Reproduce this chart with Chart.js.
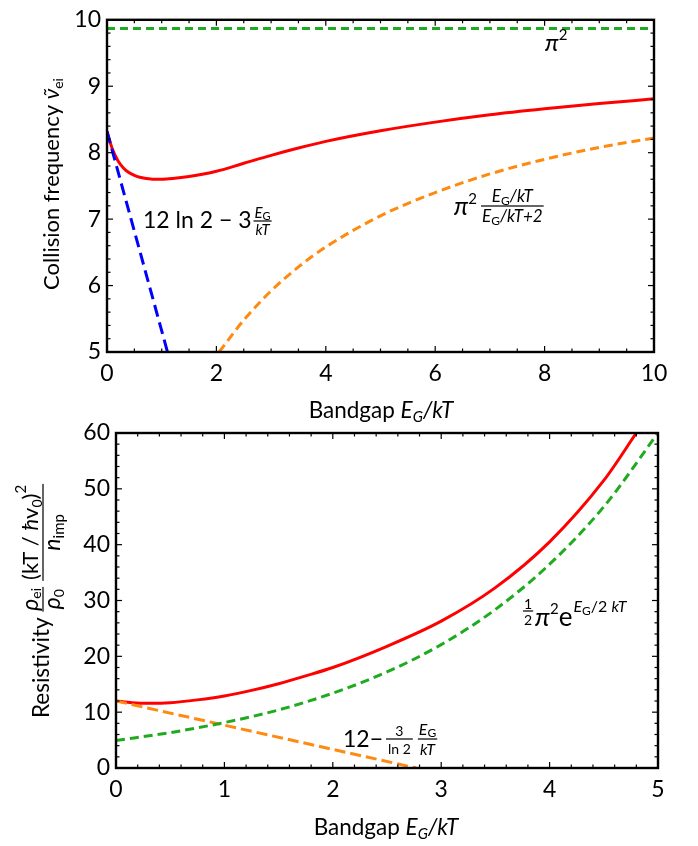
<!DOCTYPE html>
<html><head><meta charset="utf-8">
<script src="https://cdn.jsdelivr.net/npm/chart.js@4.4.0/dist/chart.umd.min.js"></script>
<style>
html,body{margin:0;padding:0;background:#fff;width:698px;height:846px;overflow:hidden}
canvas{position:absolute;left:0;top:0}
</style></head><body>
<canvas id="c1" width="698" height="846"></canvas>
<canvas id="c2" width="698" height="846"></canvas>
<script>
// ---------- data ----------
// Top panel: collision frequency vs bandgap
const topTicksX = [0, 2, 4, 6, 8, 10];
const topTicksY = [5, 6, 7, 8, 9, 10];
const topRedX = [0, 0.1, 0.2, 0.3, 0.4, 0.5, 0.6, 0.8, 1.0, 1.2, 1.5, 2, 2.5, 3, 3.5, 4, 5, 6, 7, 8, 9, 10];
const topRedY = [8.32, 8.05, 7.88, 7.77, 7.70, 7.66, 7.63, 7.605, 7.60, 7.61, 7.64, 7.72, 7.84, 7.96, 8.07, 8.17, 8.33, 8.46, 8.57, 8.66, 8.74, 8.81];
const topBlueX = [0, 1.106];
const topBlueY = [8.32, 5.0];
const topOrangeX = [2.05, 2.5, 3, 3.5, 4, 5, 6, 7, 8, 9, 10];
const topOrangeY = [5.0, 5.48, 5.92, 6.28, 6.58, 7.05, 7.40, 7.68, 7.90, 8.08, 8.22];
const topGreenX = [0, 10];
const topGreenY = [9.87, 9.87];

// Bottom panel: resistivity vs bandgap
const botTicksX = [0, 1, 2, 3, 4, 5];
const botTicksY = [0, 10, 20, 30, 40, 50, 60];
const botRedX = [0, 0.15, 0.3, 0.5, 0.75, 1, 1.25, 1.5, 1.75, 2, 2.5, 3, 3.5, 4, 4.5, 4.8];
const botRedY = [12.0, 11.7, 11.6, 11.7, 12.2, 12.9, 13.9, 15.1, 16.5, 18.0, 21.8, 26.3, 32.3, 40.5, 51.5, 60.0];
const botGreenX = [0, 0.5, 1, 1.5, 2, 2.5, 3, 3.5, 4, 4.5, 5];
const botGreenY = [4.93, 6.34, 8.14, 10.4, 13.4, 17.2, 22.1, 28.4, 36.5, 46.8, 60.0];
const botOrangeX = [0, 2.77];
const botOrangeY = [12.0, 0.0];

// ---------- styling ----------
const FAM = 'Lato, "Open Sans", sans-serif';
const RED = '#ff0000', ORANGE = '#ff8a10', GREEN = '#1fab1f', BLUE = '#0000ff';
Chart.defaults.font.family = FAM;
Chart.defaults.color = '#000';

function pts(xs, ys) { return xs.map((x, i) => ({ x: x, y: ys[i] })); }
function ds(xs, ys, color, dash) {
  return { data: pts(xs, ys), borderColor: color, borderWidth: 3, borderDash: dash || [],
    pointRadius: 0, fill: false, cubicInterpolationMode: 'monotone', borderCapStyle: 'butt' };
}

function F(size, italic) { return (italic ? 'italic ' : '') + size + 'px ' + FAM; }
function runsWidth(ctx, runs) { let w = 0; for (const r of runs) { ctx.font = r.f; w += ctx.measureText(r.t).width + (r.g || 0); } return w; }
function drawRuns(ctx, x, y, runs) {
  ctx.textAlign = 'left'; ctx.textBaseline = 'alphabetic';
  let cx = x;
  for (const r of runs) { ctx.font = r.f; ctx.fillText(r.t, cx, y + (r.dy || 0)); cx += ctx.measureText(r.t).width + (r.g || 0); }
  return cx;
}
function fracWidth(ctx, num, den, pad) { return Math.max(runsWidth(ctx, num), runsWidth(ctx, den)) + 2 * pad; }
function drawFrac(ctx, x, yBar, num, den, pad, numOff, denOff) {
  const wn = runsWidth(ctx, num), wd = runsWidth(ctx, den);
  const w = Math.max(wn, wd) + 2 * pad;
  ctx.fillRect(x, yBar - 0.6, w, 1.2);
  drawRuns(ctx, x + (w - wn) / 2, yBar - numOff, num);
  drawRuns(ctx, x + (w - wd) / 2, yBar + denOff, den);
  return x + w;
}

// frame with inward major and minor ticks on all four sides
const framePlugin = {
  id: 'frame',
  afterDatasetsDraw(chart, args, o) {
    const { ctx, chartArea: a } = chart;
    const sx = chart.scales.x, sy = chart.scales.y;
    ctx.save();
    ctx.strokeStyle = '#000';
    ctx.lineWidth = 1.2;
    const seg = (x1, y1, x2, y2) => { ctx.beginPath(); ctx.moveTo(x1, y1); ctx.lineTo(x2, y2); ctx.stroke(); };
    const n = Math.round((sx.max - sx.min) / o.xMinor);
    for (let i = 1; i < n; i++) {
      const v = sx.min + i * o.xMinor;
      const major = Math.abs(v / o.xMajor - Math.round(v / o.xMajor)) < 1e-6;
      const L = major ? 6 : 3.5, p = sx.getPixelForValue(v);
      seg(p, a.bottom, p, a.bottom - L); seg(p, a.top, p, a.top + L);
    }
    const m = Math.round((sy.max - sy.min) / o.yMinor);
    for (let i = 1; i < m; i++) {
      const v = sy.min + i * o.yMinor;
      const major = Math.abs((v - sy.min) / o.yMajor - Math.round((v - sy.min) / o.yMajor)) < 1e-6;
      const L = major ? 6 : 3.5, p = sy.getPixelForValue(v);
      seg(a.left, p, a.left + L, p); seg(a.right, p, a.right - L, p);
    }
    ctx.lineWidth = 2.4;
    ctx.strokeRect(a.left, a.top, a.right - a.left, a.bottom - a.top);
    ctx.restore();
  }
};

const labelPlugin = {
  id: 'labels',
  afterDraw(chart, args, o) { const ctx = chart.ctx; ctx.save(); ctx.fillStyle = '#000'; o.draw(ctx); ctx.restore(); }
};

function axisX(min, max, ticks, h) {
  return { type: 'linear', min: min, max: max,
    afterBuildTicks: s => { s.ticks = ticks.map(v => ({ value: v })); },
    afterFit: s => { s.height = h; },
    grid: { display: false, drawTicks: false }, border: { display: false },
    ticks: { font: { size: 23 }, padding: 8, maxRotation: 0, color: '#000' } };
}
function axisY(min, max, ticks, w) {
  return { type: 'linear', min: min, max: max,
    afterBuildTicks: s => { s.ticks = ticks.map(v => ({ value: v })); },
    afterFit: s => { s.width = w; },
    grid: { display: false, drawTicks: false }, border: { display: false },
    ticks: { font: { size: 23 }, padding: 6, color: '#000' } };
}

function xTitle() {
  return [{ t: 'Bandgap ', f: F(22.5) }, { t: 'E', f: F(22.5, true) }, { t: 'G', f: F(15, true), dy: 4 }, { t: '/', f: F(22.5, true) }, { t: 'kT', f: F(22.5, true) }];
}

// ---------- top chart ----------
new Chart(document.getElementById('c1'), {
  type: 'line',
  data: { datasets: [
    ds(topGreenX, topGreenY, GREEN, [8, 5]),
    ds(topOrangeX, topOrangeY, ORANGE, [9, 5]),
    ds(topBlueX, topBlueY, BLUE, [12, 6]),
    ds(topRedX, topRedY, RED)
  ] },
  options: {
    responsive: false, animation: false, devicePixelRatio: 1,
    layout: { padding: { left: 0, top: 14, right: 44, bottom: 426 } },
    plugins: { legend: { display: false }, tooltip: { enabled: false },
      frame: { xMinor: 0.5, xMajor: 2, yMinor: 0.2, yMajor: 1 },
      labels: { draw: ctx => {
        const xt = xTitle();
        drawRuns(ctx, 381 - runsWidth(ctx, xt) / 2, 418, xt);
        // y title (rotated)
        ctx.save(); ctx.translate(59, 184); ctx.rotate(-Math.PI / 2);
        const yt = [{ t: 'Collision frequency ', f: F(22) }, { t: 'ν\u0303', f: F(22, true) }, { t: 'ei', f: F(14), dy: 4 }];
        drawRuns(ctx, -runsWidth(ctx, yt) / 2, 0, yt);
        ctx.restore();
        // pi^2
        drawRuns(ctx, 545, 51, [{ t: 'π', f: F(24, true) }, { t: '2', f: F(15), dy: -11 }]);
        // 12 ln 2 - 3 EG/kT
        const e1 = drawRuns(ctx, 143, 228, [{ t: '12 ln 2 − 3', f: F(23) }]);
        drawFrac(ctx, e1 + 2, 221, [{ t: 'E', f: F(15, true) }, { t: 'G', f: F(11), dy: 2 }], [{ t: 'kT', f: F(15, true) }], 1, 3, 14);
        // pi^2 frac
        const e2 = drawRuns(ctx, 454, 215, [{ t: 'π', f: F(25, true) }, { t: '2', f: F(15), dy: -11, g: 4 }]);
        drawFrac(ctx, e2, 206,
          [{ t: 'E', f: F(17, true) }, { t: 'G', f: F(12), dy: 3 }, { t: '/kT', f: F(17, true) }],
          [{ t: 'E', f: F(17, true) }, { t: 'G', f: F(12), dy: 3 }, { t: '/kT+2', f: F(17, true) }], 1, 4, 16);
      } } },
    scales: { x: axisX(0, 10, topTicksX, 68), y: axisY(5, 10, topTicksY, 107) }
  },
  plugins: [framePlugin, labelPlugin]
});

// ---------- bottom chart ----------
new Chart(document.getElementById('c2'), {
  type: 'line',
  data: { datasets: [
    ds(botGreenX, botGreenY, GREEN, [9, 5]),
    ds(botOrangeX, botOrangeY, ORANGE, [11, 5]),
    ds(botRedX, botRedY, RED)
  ] },
  options: {
    responsive: false, animation: false, devicePixelRatio: 1,
    layout: { padding: { left: 0, top: 433, right: 40, bottom: 0 } },
    plugins: { legend: { display: false }, tooltip: { enabled: false },
      frame: { xMinor: 0.2, xMajor: 1, yMinor: 2, yMajor: 10 },
      labels: { draw: ctx => {
        const xt = xTitle();
        drawRuns(ctx, 386 - runsWidth(ctx, xt) / 2, 835, xt);
        // y title (rotated), centred on the plot
        const r1 = [{ t: 'Resistivity ', f: F(22.5) }];
        const n1 = [{ t: 'ρ', f: F(23, true) }, { t: 'ei', f: F(14), dy: 3 }];
        const d1 = [{ t: 'ρ', f: F(23, true) }, { t: '0', f: F(14), dy: 4 }];
        const n2 = [{ t: '(kT / ', f: F(22) }, { t: 'ħ', f: F(22, true) }, { t: 'v', f: F(22) }, { t: '0', f: F(14), dy: 4 }, { t: ')', f: F(22) }, { t: '2', f: F(15), dy: -12 }];
        const d2 = [{ t: 'n', f: F(23, true) }, { t: 'imp', f: F(15), dy: 4 }];
        const total = runsWidth(ctx, r1) + fracWidth(ctx, n1, d1, 1) + 6 + fracWidth(ctx, n2, d2, 1);
        ctx.save(); ctx.translate(49, 601); ctx.rotate(-Math.PI / 2);
        let e = drawRuns(ctx, -total / 2, 0, r1);
        e = drawFrac(ctx, e, -6, n1, d1, 1, 5, 17);
        drawFrac(ctx, e + 6, -6, n2, d2, 1, 5, 17);
        ctx.restore();
        // 1/2 pi^2 e^{EG/2kT}
        const h = drawFrac(ctx, 523, 611, [{ t: '1', f: F(14) }], [{ t: '2', f: F(14) }], 1, 2, 14);
        drawRuns(ctx, h + 2, 626, [{ t: 'π', f: F(26, true) }, { t: '2', f: F(15), dy: -12 }, { t: 'e', f: F(26), g: 1 },
          { t: 'E', f: F(16, true), dy: -14 }, { t: 'G', f: F(12), dy: -11 }, { t: '/2 ', f: F(16), dy: -14 }, { t: 'kT', f: F(16, true), dy: -14 }]);
        // 12 - 3/ln2 EG/kT
        const e3 = drawRuns(ctx, 343, 747, [{ t: '12−', f: F(23) }]);
        const e4 = drawFrac(ctx, e3 + 3, 739, [{ t: '3', f: F(14) }], [{ t: 'ln 2', f: F(14) }], 2, 3, 15);
        drawFrac(ctx, e4 + 5, 739, [{ t: 'E', f: F(16, true) }, { t: 'G', f: F(12), dy: 2 }], [{ t: 'kT', f: F(16, true) }], 1, 4, 16);
      } } },
    scales: { x: axisX(0, 5, botTicksX, 78), y: axisY(0, 60, botTicksY, 116) }
  },
  plugins: [framePlugin, labelPlugin]
});
</script>
</body></html>
